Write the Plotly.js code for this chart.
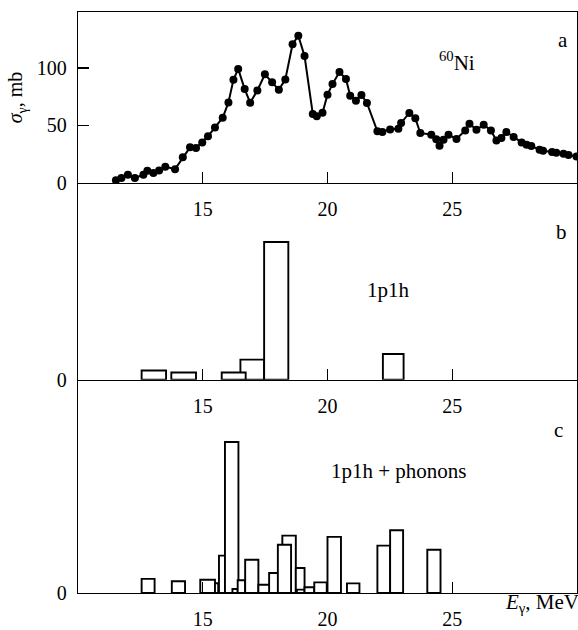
<!DOCTYPE html>
<html>
<head>
<meta charset="utf-8">
<script src="https://cdn.plot.ly/plotly-3.0.1.min.js"></script>
<style>html,body{margin:0;padding:0;background:#fff;}#chart{width:578px;height:630px;}</style>
</head>
<body>
<div id="chart"></div>
<script>
// Panel a: photoabsorption cross section of 60Ni
const energyA = [11.52, 11.74, 12.0, 12.28, 12.62, 12.78, 13.02, 13.25, 13.5, 13.89,
  14.2, 14.49, 14.73, 14.98, 15.21, 15.49, 15.8, 16.03, 16.23, 16.42,
  16.68, 16.9, 17.19, 17.49, 17.78, 18.05, 18.31, 18.6, 18.83, 19.08,
  19.41, 19.57, 19.8, 20.0, 20.2, 20.48, 20.74, 20.91, 21.14, 21.36,
  21.58, 22.0, 22.2, 22.51, 22.84, 22.95, 23.28, 23.52, 23.72, 24.16,
  24.36, 24.49, 24.65, 24.85, 25.17, 25.52, 25.69, 25.97, 26.26, 26.55,
  26.77, 26.97, 27.17, 27.46, 27.78, 27.98, 28.17, 28.5, 28.64, 29.0,
  29.17, 29.46, 29.66, 29.98];
const sigmaA = [2.4, 4.3, 7.2, 4.3, 7.2, 10.7, 8.7, 10.9, 14.2, 12.0,
  22.3, 31.0, 30.4, 35.3, 40.6, 48.3, 56.8, 70.0, 89.8, 99.2,
  81.7, 69.8, 80.5, 94.6, 87.5, 81.0, 90.1, 120.7, 128.1, 110.4,
  60.0, 58.0, 61.0, 76.8, 86.0, 96.5, 90.4, 75.9, 71.6, 76.5,
  69.6, 44.9, 44.3, 46.6, 47.1, 52.2, 60.9, 56.2, 43.5, 42.0,
  38.0, 32.4, 37.6, 42.0, 38.3, 45.7, 51.6, 46.3, 50.7, 45.7,
  37.0, 39.2, 44.3, 40.0, 35.3, 33.3, 32.1, 29.0, 28.1, 27.0,
  26.4, 25.5, 24.3, 23.1];

// Panel b: 1p1h strength (bin centre, bin width, strength in arbitrary units)
const energyB = [13.04, 14.235, 16.985, 16.24, 17.945, 22.635];
const widthB  = [0.98, 0.99, 0.95, 0.96, 0.97, 0.83];
const strengthB = [4.7, 3.7, 10.2, 3.7, 70.0, 13.1];

// Panel c: 1p1h + phonons strength
const energyC = [12.81, 14.025, 15.41, 15.195, 15.92, 16.16, 16.295, 16.55, 16.965, 17.485,
  17.925, 18.46, 18.275, 18.905, 18.925, 19.275, 19.72, 20.27, 21.03, 22.255,
  22.77, 24.265];
const widthC  = [0.52, 0.53, 0.42, 0.59, 0.54, 0.54, 0.21, 0.30, 0.53, 0.51,
  0.53, 0.54, 0.53, 0.35, 0.31, 0.39, 0.50, 0.54, 0.50, 0.51,
  0.52, 0.53];
const strengthC = [6.6, 5.5, 4.6, 6.2, 17.5, 70.8, 1.9, 6.0, 15.6, 3.9,
  9.4, 26.9, 22.6, 11.7, 1.6, 2.7, 5.0, 26.3, 4.5, 22.2,
  29.4, 20.3];

const xTicks = [15, 20, 25];
const xTickText = ['15', '20', '25'];
const yTicksA = [0, 50, 100];

const FONT = '"Liberation Serif", "Times New Roman", Times, "DejaVu Serif", serif';
const tickFont = {family: FONT, size: 20, color: '#000'};

const barStyle = {color: '#ffffff', line: {color: '#000', width: 1.9}};

const traces = [
  {type: 'scatter', mode: 'lines+markers', x: energyA, y: sigmaA, xaxis: 'x', yaxis: 'y',
   line: {color: '#000', width: 2}, marker: {color: '#000', size: 8}, hoverinfo: 'skip'},
  {type: 'bar', x: energyB, y: strengthB, width: widthB, base: 0, xaxis: 'x2', yaxis: 'y2',
   marker: barStyle, hoverinfo: 'skip'},
  {type: 'bar', x: energyC, y: strengthC, width: widthC, base: 0, xaxis: 'x3', yaxis: 'y3',
   marker: barStyle, hoverinfo: 'skip'}
];

function xAxis(anchor, mirror) {
  return {anchor: anchor, domain: [0, 1], range: [10, 30], tickvals: xTicks, ticktext: xTickText,
    ticks: 'inside', ticklen: 11, tickwidth: 1.3, tickcolor: '#000',
    showline: true, linecolor: '#000', linewidth: 1.3, mirror: mirror,
    showgrid: false, zeroline: false, tickfont: tickFont, ticklabelstandoff: 8};
}
function yAxis(domain, range, vals, anchor) {
  return {anchor: anchor, domain: domain, range: range, tickvals: vals,
    ticks: 'inside', ticklen: 11, tickwidth: 1.3, tickcolor: '#000',
    showline: true, linecolor: '#000', linewidth: 1.3, mirror: true,
    showgrid: false, zeroline: false, tickfont: tickFont, ticklabelstandoff: 6};
}

const yA = yAxis([0.7057, 1], [0, 148.7], yTicksA, 'x');
yA.title = {text: '<i>σ</i><sub>γ</sub>, mb', font: {family: FONT, size: 20, color: '#000'}, standoff: 8};

const annFont = {family: FONT, size: 21, color: '#000'};
const layout = {
  width: 578, height: 630,
  margin: {l: 78, r: 1, t: 12, b: 37},
  paper_bgcolor: '#fff', plot_bgcolor: '#fff',
  font: {family: FONT, color: '#000'},
  showlegend: false, barmode: 'overlay', bargap: 0,
  xaxis: xAxis('y', true), yaxis: yA,
  xaxis2: xAxis('y2', false), yaxis2: yAxis([0.3671, 0.7057], [0, 100], [0], 'x2'),
  xaxis3: xAxis('y3', false), yaxis3: yAxis([0, 0.3671], [0, 100], [0], 'x3'),
  annotations: [
    {xref: 'x', yref: 'y', x: 29.45, y: 124.6, text: 'a', showarrow: false, font: annFont},
    {xref: 'x', yref: 'y', x: 25.2, y: 106, text: '<sup>60</sup>Ni', showarrow: false, font: annFont},
    {xref: 'x2', yref: 'y2', x: 29.37, y: 75.2, text: 'b', showarrow: false, font: annFont},
    {xref: 'x2', yref: 'y2', x: 22.43, y: 45.8, text: '1p1h', showarrow: false, font: annFont},
    {xref: 'x3', yref: 'y3', x: 29.25, y: 76.6, text: 'c', showarrow: false, font: annFont},
    {xref: 'x3', yref: 'y3', x: 22.88, y: 57.3, text: '1p1h + phonons', showarrow: false, font: annFont},
    {xref: 'x3', yref: 'paper', x: 28.6, y: -0.0425, text: '<i>E</i><sub>γ</sub>, MeV', showarrow: false, font: annFont}
  ]
};

Plotly.newPlot('chart', traces, layout, {staticPlot: true, displayModeBar: false});
</script>
</body>
</html>
